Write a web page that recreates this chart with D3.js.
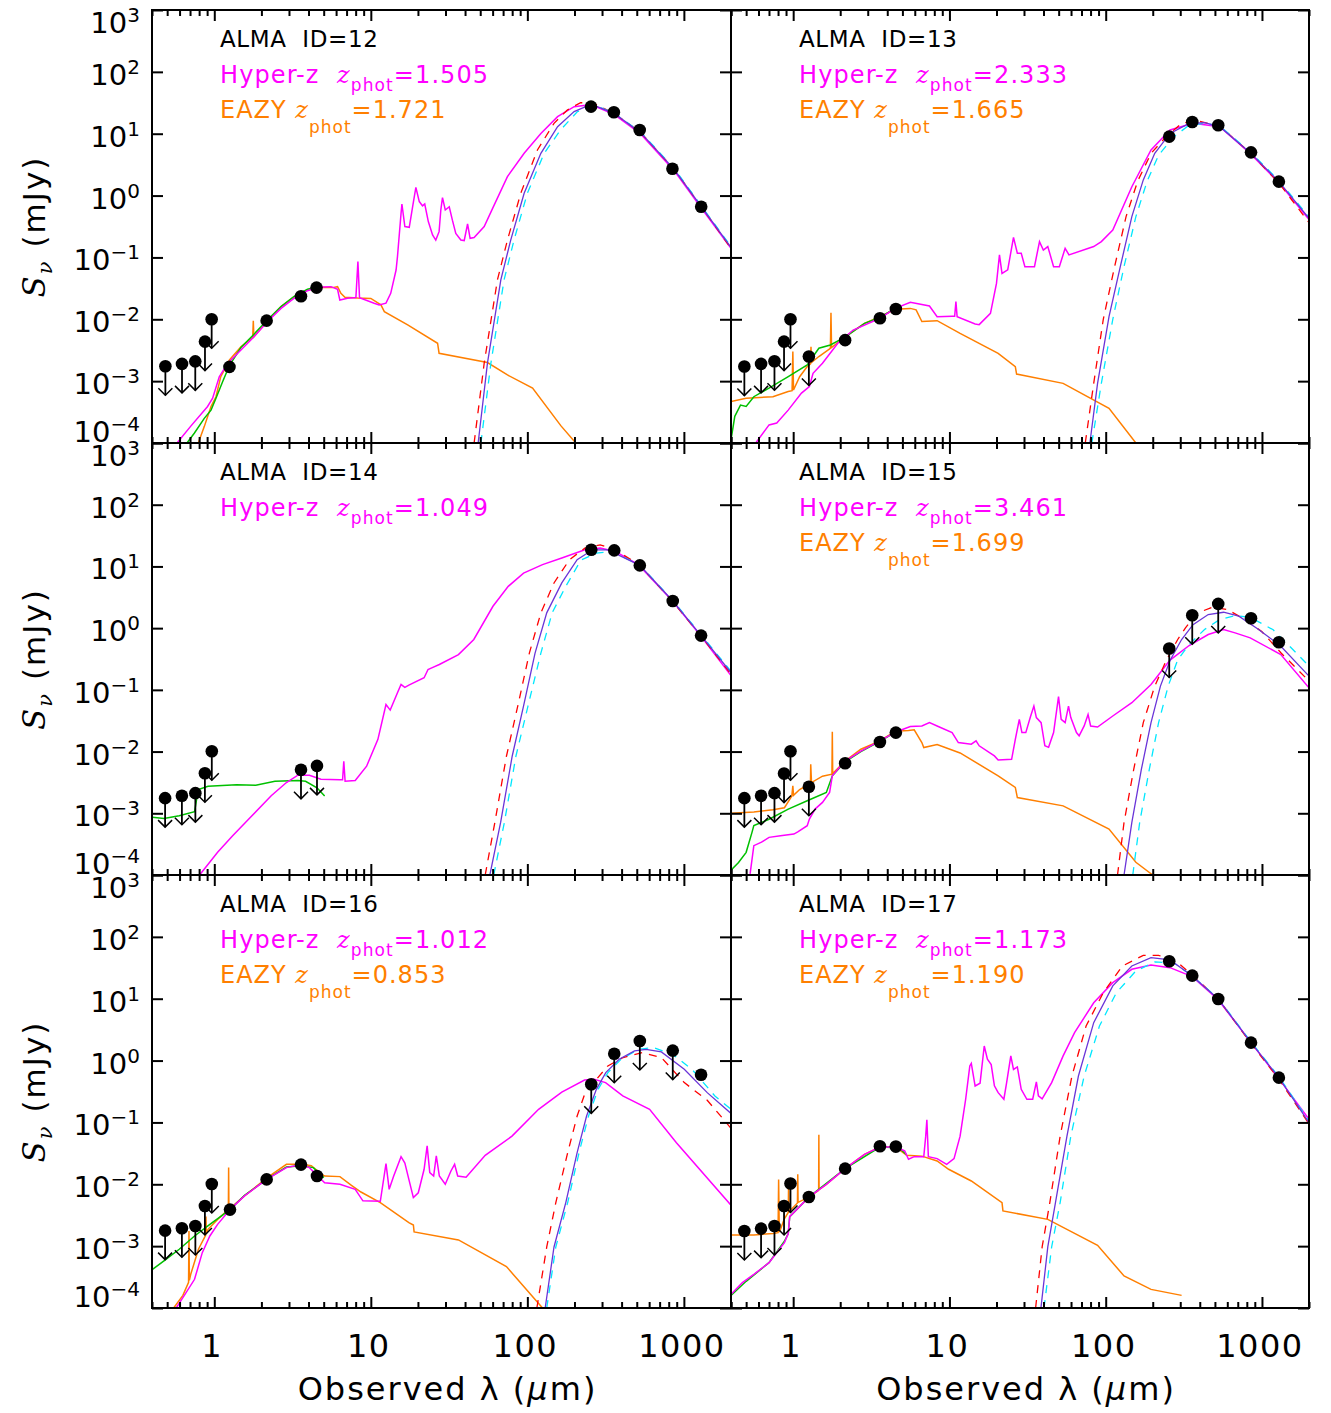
<!DOCTYPE html>
<html>
<head>
<meta charset="utf-8">
<script src="https://cdn.jsdelivr.net/npm/d3@7"></script>
<style>
  body { margin: 0; background: #fff; }
  svg { display: block; font-family: "DejaVu Sans", sans-serif; }
</style>
</head>
<body>
<svg id="chart" width="1331" height="1413"></svg>
<script>
// ---- data: wavelength (um), flux (mJy) ----
const ids = [12, 13, 14, 15, 16, 17];
const hyperzPhot = ["1.505", "2.333", "1.049", "3.461", "1.012", "1.173"];
const eazyPhot = ["1.721", "1.665", null, "1.699", "0.853", "1.190"];
const xTickLabels = [1, 10, 100, 1000];
const yTickVals = [1e-4, 1e-3, 1e-2, 1e-1, 1, 10, 100, 1000];

// photometry: [lambda, flux, upperLimit]
const pts12 = [[0.487,1.74e-3,1],[0.622,1.9e-3,1],[0.756,2.09e-3,1],[0.872,4.36e-3,1],[0.962,1.0e-2,1],
  [1.25,1.7e-3,0],[2.16,9.5e-3,0],[3.58,2.36e-2,0],[4.5,3.25e-2,0],
  [255,27.4,0],[357,22.2,0],[522,11.5,0],[845,2.72,0],[1290,0.66,0]];
const pts13 = [[0.487,1.72e-3,1],[0.623,1.9e-3,1],[0.759,2.1e-3,1],[0.874,4.36e-3,1],[0.961,1.0e-2,1],
  [1.26,2.5e-3,1],[2.15,4.6e-3,0],[3.59,1.04e-2,0],[4.54,1.47e-2,0],
  [255,8.97,0],[358,15.5,0],[525,13.7,0],[851,5.0,0],[1283,1.68,0]];
const pts14 = [[0.485,1.76e-3,1],[0.621,1.92e-3,1],[0.757,2.12e-3,1],[0.871,4.46e-3,1],[0.964,1.01e-2,1],
  [3.58,5.06e-3,1],[4.53,5.86e-3,1],
  [256,18.6,0],[359,18.2,0],[523,10.4,0],[849,2.75,0],[1288,0.757,0]];
const pts15 = [[0.487,1.76e-3,1],[0.623,1.92e-3,1],[0.759,2.12e-3,1],[0.874,4.4e-3,1],[0.961,1.01e-2,1],
  [1.26,2.69e-3,1],[2.15,6.47e-3,0],[3.59,1.43e-2,0],[4.54,2.03e-2,0],
  [255,0.468,1],[358,1.62,1],[525,2.47,1],[851,1.45,0],[1283,0.59,0]];
const pts16 = [[0.485,1.78e-3,1],[0.621,1.95e-3,1],[0.757,2.12e-3,1],[0.871,4.46e-3,1],[0.964,1.01e-2,1],
  [1.26,3.9e-3,0],[2.16,1.2e-2,0],[3.58,2.08e-2,0],[4.53,1.36e-2,0],
  [256,0.413,1],[359,1.29,1],[523,2.07,1],[849,1.45,1],[1288,0.59,0]];
const pts17 = [[0.487,1.76e-3,1],[0.623,1.92e-3,1],[0.759,2.12e-3,1],[0.874,4.46e-3,1],[0.961,1.03e-2,1],
  [1.26,6.24e-3,0],[2.15,1.79e-2,0],[3.59,4.11e-2,0],[4.54,4.07e-2,0],
  [255,40.3,0],[358,23.6,0],[525,9.9,0],[851,1.95,0],[1283,0.53,0]];

// Hyper-z best-fit templates (magenta)
const hyp12 = [[0.578,1e-4],[0.71,1.89e-4],[0.906,3.9e-4],[0.976,5.3e-4],[1.076,1.18e-3],[1.22,1.95e-3],[1.48,3.19e-3],
  [1.80,5.25e-3],[2.19,9.2e-3],[2.67,1.5e-2],[3.24,2.19e-2],[3.94,2.9e-2],[4.57,3.29e-2],[5.56,3.37e-2],[6.13,3.05e-2],
  [6.34,2.05e-2],[7.10,2.19e-2],[8.03,2.24e-2],[8.27,8.55e-2],[8.47,2.24e-2],[10.5,1.82e-2],[11.3,1.71e-2],[12.5,1.82e-2],
  [13.4,2.63e-2],[14.5,6.26e-2],[14.8,0.103],[15.6,0.516],[15.8,0.73],[16.5,0.315],[17.6,0.307],[18.5,0.662],[19.4,1.36],
  [20.4,0.80],[21.4,0.68],[22.1,0.73],[23.3,0.38],[24.8,0.231],[26.0,0.191],[27.3,0.261],[28.0,0.585],[28.7,0.927],
  [29.9,0.585],[31.7,0.66],[33.2,0.40],[34.9,0.245],[37.6,0.191],[39.5,0.187],[41.5,0.347],[43.1,0.204],[45.7,0.21],
  [53,0.315],[60,0.62],[74.6,2.02],[95.4,4.82],[122,10.1],[156,18.9],[199,27.4],[236,28.8],[280,26.7],[358,20.6],
  [530,9.9],[867,2.53],[1282,0.645],[2000,0.14]];
const hyp13 = [[0.576,1e-4],[0.701,1.96e-4],[0.785,2.1e-4],[0.929,3.4e-4],[1.13,6.4e-4],[1.27,8.2e-4],[1.34,1.34e-3],
  [1.54,1.95e-3],[1.93,4.1e-3],[2.42,6.7e-3],[3.59,1.04e-2],[4.5,1.5e-2],[5.62,1.88e-2],[7.45,1.64e-2],[8.34,1.1e-2],
  [10.4,1.12e-2],[10.8,1.12e-2],[11.0,1.93e-2],[11.2,1.1e-2],[14.6,8.4e-3],[15.5,8.2e-3],[18.3,1.25e-2],[20,3.8e-2],
  [20.9,0.11],[21.7,5.5e-2],[23.6,6.3e-2],[25.7,0.211],[27.2,0.117],[28.8,0.117],[30.4,7.1e-2],[35,7.1e-2],[37.7,0.18],
  [39.9,0.132],[42.6,0.15],[46.4,7.1e-2],[50.5,7.1e-2],[55,0.14],[58.2,0.11],[83.8,0.15],[93.8,0.18],[111,0.278],
  [147,1.39],[195,5.46],[258,11.5],[362,14.7],[537,13],[841,4.8],[1283,1.62],[2000,0.41]];
const hyp14 = [[0.815,1.04e-4],[1.05,2.33e-4],[1.31,4.34e-4],[1.74,9.1e-4],[2.31,1.92e-3],[2.89,3.15e-3],[3.42,4.14e-3],
  [4.05,4.14e-3],[4.8,3.56e-3],[6.35,3.5e-3],[6.6,3.5e-3],[6.72,6.98e-3],[6.85,3.3e-3],[7.95,3.4e-3],[9.4,5.8e-3],
  [11.1,1.58e-2],[12.5,5.8e-2],[13.3,4.7e-2],[14.8,9.0e-2],[15.6,0.122],[16.5,0.11],[17.5,0.119],[21.9,0.157],
  [23.2,0.214],[24.5,0.227],[27.4,0.258],[36.3,0.373],[45.5,0.655],[60.3,2.26],[75.5,4.76],[94.6,7.8],[125,10.7],
  [166,13.7],[233,18.6],[292,19.8],[365,17.5],[512,10.7],[849,2.72],[1288,0.74],[2000,0.17]];
const hyp15 = [[0.53,1.04e-4],[0.56,2.99e-4],[0.627,3.4e-4],[0.701,4.07e-4],[0.83,4.34e-4],[1.01,4.6e-4],[1.07,5.0e-4],
  [1.23,6.3e-4],[1.27,8.05e-4],[1.38,1.17e-3],[1.54,1.5e-3],[1.71,2.17e-3],[1.78,4.05e-3],[1.93,5.19e-3],[2.16,7.07e-3],
  [2.71,1.02e-2],[3.59,1.49e-2],[4.54,2.08e-2],[5.62,2.54e-2],[6.66,2.6e-2],[7.45,2.94e-2],[8.34,2.6e-2],[10.4,2.03e-2],
  [11.4,1.4e-2],[13.8,1.32e-2],[14.8,1.49e-2],[15.5,1.24e-2],[19.4,8.5e-3],[20.5,7.3e-3],[25,7.5e-3],[26.4,1.58e-2],
  [28,3.33e-2],[29.1,2.03e-2],[30.8,2.03e-2],[33.1,3.78e-2],[34.7,5.47e-2],[36,3.55e-2],[38.6,2.94e-2],[40.8,1.24e-2],
  [43.1,1.17e-2],[46.4,2.03e-2],[49.9,7.75e-2],[51.9,3.33e-2],[55,2.94e-2],[57.8,5.47e-2],[59.8,3.55e-2],[65,2.03e-2],
  [67.6,1.8e-2],[72.8,2.6e-2],[77.1,4.0e-2],[80.1,2.6e-2],[88.7,2.5e-2],[111,3.77e-2],[147,6.2e-2],[195,0.122],
  [258,0.303],[342,0.523],[453,0.789],[568,0.949],[673,0.838],[841,0.697],[1321,0.373],[2000,0.108]];
const hyp16 = [[0.571,1e-4],[0.63,1.47e-4],[0.748,2.91e-4],[0.838,7.85e-4],[0.937,1.46e-3],[1.05,2.25e-3],[1.26,3.9e-3],
  [1.56,6.5e-3],[2.16,1.2e-2],[2.89,1.86e-2],[3.58,2.08e-2],[4.05,1.86e-2],[5.07,1.06e-2],[6.35,1.0e-2],[7.95,8.3e-3],
  [8.9,5.4e-3],[11.5,5.3e-3],[12.5,2.16e-2],[13.1,8.3e-3],[14,1.36e-2],[15.6,2.8e-2],[16.5,2.2e-2],[17.5,1.2e-2],
  [18.7,6.1e-3],[20.1,7.3e-3],[21.9,1.75e-2],[22.9,4.17e-2],[23.8,1.54e-2],[25.2,1.36e-2],[26.2,2.87e-2],[27.4,1.36e-2],
  [29.9,1.0e-2],[32.5,1.64e-2],[34.3,2.1e-2],[35.9,1.36e-2],[40.6,1.3e-2],[53.8,2.94e-2],[79.8,6.0e-2],[118,0.163],
  [166,0.31],[232,0.485],[267,0.5],[316,0.44],[407,0.268],[604,0.163],[896,4.7e-2],[2000,4.6e-3]];
const hyp17 = [[0.4,1.67e-4],[0.473,2.57e-4],[0.56,3.5e-4],[0.701,5.4e-4],[0.879,1.14e-3],[0.93,1.6e-3],[0.95,3.0e-3],
  [1.26,6.2e-3],[1.63,1.0e-2],[2.15,1.79e-2],[2.86,3.05e-2],[3.59,4.0e-2],[4.54,4.0e-2],[5.17,3.46e-2],[5.47,2.54e-2],
  [5.95,2.8e-2],[6.85,2.8e-2],[7.05,6.0e-2],[7.17,0.11],[7.33,2.8e-2],[8.34,2.6e-2],[9.6,2.1e-2],[10.7,2.6e-2],
  [11.7,6.0e-2],[12.7,0.237],[13.5,0.82],[13.8,0.9],[14.6,0.388],[15.7,0.43],[16.7,1.72],[17.5,1.05],[18.5,0.86],
  [19.4,0.39],[20.5,0.303],[22.3,0.237],[23.2,0.43],[24.7,1.19],[25.7,0.72],[27.2,0.79],[28.8,0.343],[31.3,0.237],
  [34.1,0.237],[36,0.451],[37.1,0.27],[39.2,0.24],[45.1,0.44],[53.4,1.19],[63.2,2.83],[83.8,8.6],[111,18.2],
  [147,29.9],[195,35.1],[258,31.8],[358,22.8],[525,9.6],[851,1.95],[1283,0.51],[2000,0.112]];

// EAZY templates (orange)
const eazy12 = [[0.79,1e-4],[0.863,1.84e-4],[0.953,3.9e-4],[1.025,5.6e-4],[1.10,1.18e-3],[1.25,2.2e-3],[1.48,3.6e-3],
  [1.76,5.1e-3],[1.775,9.5e-3],[1.79,5.2e-3],[2.19,9.5e-3],[2.67,1.6e-2],[3.24,2.32e-2],[3.94,2.98e-2],[4.80,3.29e-2],
  [5.70,3.25e-2],[6.13,3.37e-2],[6.44,2.63e-2],[6.83,2.27e-2],[8.23,2.2e-2],[10.0,2.17e-2],[11.6,1.71e-2],[12.2,1.33e-2],
  [17.2,8.1e-3],[26.7,4.1e-3],[27.3,2.82e-3],[55.6,2.0e-3],[74.6,1.26e-3],[108,7.7e-4],[164,1.89e-4],[204,1.0e-4]];
const eazy13 = [[0.4,4.67e-4],[0.5,5.3e-4],[0.742,5.6e-4],[0.929,6.8e-4],[0.984,7.0e-4],[0.995,3.0e-3],[1.005,7.2e-4],
  [1.1,1.18e-3],[1.23,1.72e-3],[1.29,1.9e-3],[1.30,3.6e-3],[1.31,2.0e-3],[1.46,2.5e-3],[1.73,3.4e-3],[1.745,1.28e-2],
  [1.76,3.5e-3],[2.16,5.25e-3],[2.86,8.6e-3],[3.59,1.1e-2],[4.49,1.45e-2],[5.62,1.5e-2],[6.12,1.42e-2],[6.66,9.2e-3],
  [8.34,9.5e-3],[11.7,5.9e-3],[20.5,2.82e-3],[26.4,1.72e-3],[26.9,1.3e-3],[53.4,9.2e-4],[105,3.65e-4],[156,1e-4]];
const eazy14 = [];
const eazy15 = [[0.4,1.0e-3],[0.56,1.05e-3],[0.742,1.14e-3],[0.879,1.23e-3],[0.98,1.9e-3],[0.995,2.79e-3],[1.005,1.95e-3],
  [1.1,2.43e-3],[1.29,3.05e-3],[1.295,6.2e-3],[1.31,3.15e-3],[1.54,3.99e-3],[1.77,4.3e-3],[1.78,2.1e-2],[1.79,4.4e-3],
  [2.16,7.1e-3],[2.71,1.09e-2],[3.59,1.49e-2],[4.5,2.13e-2],[5.47,2.2e-2],[5.95,2.25e-2],[6.66,1.4e-2],[6.85,1.16e-2],
  [8.34,1.3e-2],[11.7,9.5e-3],[20.5,4.05e-3],[26.4,2.62e-3],[27.2,1.8e-3],[53.4,1.32e-3],[105,5.56e-4],[156,1.61e-4],[200,1e-4]];
const eazy16 = [[0.55,1e-4],[0.63,1.6e-4],[0.685,2.6e-4],[0.689,1.76e-3],[0.693,2.8e-4],[0.707,3.5e-4],[0.792,8.9e-4],
  [0.88,1.5e-3],[0.885,3.0e-3],[0.89,1.6e-3],[0.912,1.87e-3],[1.05,2.71e-3],[1.23,3.9e-3],[1.235,1.86e-2],[1.24,3.95e-3],
  [1.56,6.5e-3],[2.18,1.28e-2],[2.89,2.1e-2],[3.62,2.1e-2],[4.17,2.0e-2],[4.8,1.48e-2],[5.07,1.36e-2],[6.35,1.33e-2],
  [7.52,9.6e-3],[8.65,7.5e-3],[11.5,5.06e-3],[17.5,2.4e-3],[18.7,2.2e-3],[18.9,1.7e-3],[36.3,1.26e-3],[73.5,4.67e-4],[125,1e-4]];
const eazy17 = [[0.4,1.52e-3],[0.56,1.52e-3],[0.742,1.6e-3],[0.80,1.65e-3],[0.807,1.2e-2],[0.815,1.7e-3],[0.83,1.87e-3],
  [0.874,2.7e-3],[0.93,3.5e-3],[0.935,1.1e-2],[0.94,3.6e-3],[1.065,5e-3],[1.07,1.45e-2],[1.075,5.1e-3],[1.26,6.2e-3],
  [1.455,8e-3],[1.46,6.3e-2],[1.465,8.2e-3],[1.63,1.0e-2],[2.15,1.8e-2],[2.86,3.05e-2],[3.59,4.0e-2],[4.54,4.0e-2],
  [5.32,2.94e-2],[6.66,2.85e-2],[8.34,2.38e-2],[9.88,1.75e-2],[13.8,1.13e-2],[21.7,5.06e-3],[22,3.71e-3],[42.6,2.71e-3],
  [88.7,1.03e-3],[131,3.3e-4],[195,2.0e-4],[306,1.6e-4]];

// third optical/NIR fit (green)
const alt12 = [[0.669,1e-4],[0.745,1.44e-4],[0.863,2.5e-4],[0.953,3.4e-4],[1.025,5.3e-4],[1.13,9.8e-4],[1.25,1.8e-3],
  [1.48,3.5e-3],[1.80,5.8e-3],[2.19,9.8e-3],[2.67,1.6e-2],[3.24,2.35e-2],[3.94,3.06e-2],[4.46,3.3e-2]];
const alt13 = [[0.4,1.12e-4],[0.423,2.7e-4],[0.46,4.1e-4],[0.5,3.9e-4],[0.56,5.6e-4],[0.70,7.7e-4],[0.93,1.18e-3],
  [1.23,1.83e-3],[1.46,3.4e-3],[1.73,3.85e-3],[2.16,5.2e-3],[2.86,8.6e-3],[3.59,1.07e-2],[4.49,1.5e-2]];
const alt14 = [[0.403,8.6e-4],[0.477,8.2e-4],[0.597,9.1e-4],[0.748,1.06e-3],[0.79,2.43e-3],[0.912,2.75e-3],[1.39,2.9e-3],
  [1.84,2.85e-3],[2.44,3.3e-3],[3.42,3.4e-3],[3.83,3.3e-3],[4.53,2.59e-3],[5.07,1.9e-3]];
const alt15 = [[0.4,1.2e-4],[0.447,1.6e-4],[0.5,2.33e-4],[0.545,4.9e-4],[0.56,6.3e-4],[0.701,8.0e-4],[0.93,1.17e-3],
  [1.23,1.6e-3],[1.63,2.17e-3],[1.78,4.05e-3],[2.16,6.9e-3],[2.71,1.0e-2],[3.59,1.47e-2],[4.54,2.08e-2]];
const alt16 = [[0.403,4.2e-4],[0.477,5.8e-4],[0.597,8.9e-4],[0.748,1.46e-3],[0.937,2.25e-3],[1.26,3.9e-3],[1.56,6.6e-3],
  [2.18,1.22e-2],[2.89,1.9e-2],[3.58,2.0e-2],[4.29,1.86e-2],[5.01,1.28e-2]];
const alt17 = [[0.4,1.6e-4],[0.5,2.7e-4],[0.70,5.4e-4],[0.879,1.2e-3],[0.93,1.6e-3],[0.95,3.0e-3],[1.26,6.2e-3],
  [2.15,1.8e-2],[3.59,4.0e-2],[4.75,3.9e-2],[5.32,3.0e-2]];

// far-IR dust fits: solid (blue), dashed low (red), dashed high (cyan)
const sed12 = [[48.5,1e-4],[55.6,1.95e-3],[67.7,4.33e-2],[78.3,0.191],[95.4,1.09],[122,4.82],[156,13.0],[199,22.8],
  [242,28.1],[280,27.4],[358,21.4],[530,10.4],[867,2.66],[1282,0.68],[2000,0.145]];
const sedLo12 = [[45.7,1e-4],[53,1.95e-3],[64.4,4.33e-2],[74.6,0.191],[90.8,1.09],[116,5.46],[148,14.7],[180,24.2],
  [219,31.8],[267,30.8],[358,21.4],[530,10.4],[867,2.66],[1282,0.68],[2000,0.14]];
const sedHi12 = [[50.5,1e-4],[58.5,1.95e-3],[71,4.33e-2],[82.2,0.191],[100,1.09],[128,4.82],[163,11.5],[209,22.8],
  [254,26.7],[300,26],[358,21.4],[530,10.6],[867,2.75],[1282,0.7],[2000,0.15]];
const sed13 = [[79.2,1e-4],[88.7,9.2e-4],[105,1.1e-2],[124,7.1e-2],[147,0.457],[174,1.79],[206,4.82],[258,10.1],
  [342,14.7],[429,15.1],[537,13.0],[841,4.94],[1283,1.68],[2000,0.43]];
const sedLo13 = [[74,1e-4],[83.8,9.2e-4],[96.5,1.0e-2],[114,7.1e-2],[135,0.457],[160,1.7],[195,4.82],[244,8.97],
  [306,14.7],[383,16.3],[537,13.2],[841,4.9],[1283,1.6],[2000,0.366]];
const sedHi13 = [[81.5,1e-4],[93.8,9.2e-4],[111,1.0e-2],[131,7.1e-2],[156,0.457],[184,1.7],[218,4.5],[273,8.97],
  [342,13.7],[429,14.7],[537,13.3],[841,5.1],[1283,1.75],[2000,0.45]];
const sed14 = [[57.6,1e-4],[67.5,7.1e-4],[80,8.4e-3],[94.6,5.5e-2],[112,0.394],[133,1.77],[166,5.4],[208,12.9],
  [261,18.6],[327,18.6],[523,10.4],[849,2.75],[1288,0.757],[2000,0.19]];
const sedLo14 = [[53.8,1e-4],[62,7.1e-4],[73.5,8.4e-3],[86.9,5.5e-2],[103,0.394],[122,1.77],[148,5.4],[186,12.9],
  [233,19.8],[292,22.4],[365,18.6],[523,10.4],[849,2.7],[1288,0.74],[2000,0.18]];
const sedHi14 = [[61,1e-4],[71.3,7.1e-4],[84.5,8.4e-3],[101,5.5e-2],[122,0.394],[144,1.77],[176,4.76],[220,12.7],
  [276,16.4],[345,17.5],[523,10.6],[849,2.8],[1288,0.78],[2000,0.2]];
const sed15 = [[131,1e-4],[147,7.1e-4],[169,5.1e-3],[195,2.94e-2],[224,0.115],[258,0.3],[306,0.655],[362,1.14],
  [453,1.66],[568,1.81],[711,1.56],[942,0.97],[1321,0.51],[2000,0.167]];
const sedLo15 = [[119,1e-4],[131,7.1e-4],[151,5.1e-3],[174,2.94e-2],[206,0.115],[244,0.3],[289,0.655],[324,1.01],
  [383,1.74],[480,2.18],[601,2.0],[752,1.45],[997,0.88],[1321,0.4],[2000,0.139]];
const sedHi15 = [[149,1e-4],[165,7.1e-4],[190,5.1e-3],[218,2.94e-2],[251,0.115],[289,0.307],[342,0.543],[429,0.95],
  [537,1.38],[673,1.6],[841,1.5],[1180,0.94],[1652,0.4],[2000,0.243]];
const sed16 = [[130,1e-4],[148,9.7e-4],[176,5.06e-3],[208,3.25e-2],[239,0.127],[276,0.343],[317,0.638],[386,1.05],
  [484,1.43],[573,1.52],[718,1.38],[1006,0.723],[1410,0.303],[2000,0.14]];
const sedLo16 = [[115,1e-4],[133,9.7e-4],[152,5.06e-3],[181,3.25e-2],[208,0.127],[233,0.292],[276,0.497],[327,0.82],
  [409,1.12],[542,1.34],[718,1.12],[1006,0.44],[1410,0.228],[1866,0.0993],[2000,0.08]];
const sedHi16 = [[133,1e-4],[152,9.7e-4],[181,5.06e-3],[214,3.25e-2],[246,0.127],[283,0.343],[327,0.638],[397,1.05],
  [512,1.52],[641,1.62],[849,1.26],[1125,0.723],[1578,0.268],[2000,0.163]];
const sed17 = [[38.5,1e-4],[42.6,9.7e-4],[47.7,5.06e-3],[56.5,6.0e-2],[66.9,0.563],[83.8,4.1],[111,16.1],[147,33.8],
  [195,46.1],[258,42.3],[358,23.3],[525,9.9],[851,1.95],[1283,0.53],[2000,0.0993]];
const sedLo17 = [[35.6,1e-4],[39.2,9.7e-4],[43.9,5.06e-3],[51.1,6.0e-2],[60.8,0.563],[74.9,3.62],[96.5,12.5],[128,33.8],
  [174,50.2],[218,50.2],[281,40.8],[358,24],[525,9.9],[851,1.9],[1283,0.5],[2000,0.095]];
const sedHi17 = [[40.3,1e-4],[45.1,9.7e-4],[51.1,5.06e-3],[59.8,6.0e-2],[72.8,0.563],[91.2,3.62],[117,12.5],[156,28.1],
  [206,39.3],[274,37.7],[358,23.3],[525,10.1],[851,2.0],[1283,0.55],[2000,0.105]];

const panels = [
  {pts: pts12, hyp: hyp12, eazy: eazy12, alt: alt12, sed: sed12, lo: sedLo12, hi: sedHi12},
  {pts: pts13, hyp: hyp13, eazy: eazy13, alt: alt13, sed: sed13, lo: sedLo13, hi: sedHi13},
  {pts: pts14, hyp: hyp14, eazy: eazy14, alt: alt14, sed: sed14, lo: sedLo14, hi: sedHi14},
  {pts: pts15, hyp: hyp15, eazy: eazy15, alt: alt15, sed: sed15, lo: sedLo15, hi: sedHi15},
  {pts: pts16, hyp: hyp16, eazy: eazy16, alt: alt16, sed: sed16, lo: sedLo16, hi: sedHi16},
  {pts: pts17, hyp: hyp17, eazy: eazy17, alt: alt17, sed: sed17, lo: sedLo17, hi: sedHi17}
];

// ---- layout ----
const colX = [[152, 731], [731, 1309]];
const rowY = [[10, 443], [443, 875], [875, 1308]];
const svg = d3.select("#chart");

const colors = {
  hyp: "#ff00ff", eazy: "#ff7f00", alt: "#00c000",
  sed: "#6a34d8", lo: "#ff0000", hi: "#00e8ff"
};

panels.forEach(function(p, i) {
  const col = i % 2, row = Math.floor(i / 2);
  const [x0, x1] = colX[col];
  const [y0, y1] = rowY[row];

  const x = d3.scaleLog().domain([0.4, 2000]).range([x0, x1]);
  const y = d3.scaleLog().domain([1e-4, 1e3]).range([y1, y0]);

  const g = svg.append("g");
  const clipId = "clip" + i;
  g.append("clipPath").attr("id", clipId)
    .append("rect").attr("x", x0).attr("y", y0).attr("width", x1 - x0).attr("height", y1 - y0);

  const plot = g.append("g").attr("clip-path", `url(#${clipId})`);
  const line = d3.line().x(d => x(d[0])).y(d => y(d[1]));

  plot.append("path").datum(p.eazy).attr("d", line)
    .attr("fill", "none").attr("stroke", colors.eazy).attr("stroke-width", 1.5);
  plot.append("path").datum(p.alt).attr("d", line)
    .attr("fill", "none").attr("stroke", colors.alt).attr("stroke-width", 1.5);
  plot.append("path").datum(p.hyp).attr("d", line)
    .attr("fill", "none").attr("stroke", colors.hyp).attr("stroke-width", 1.5);
  plot.append("path").datum(p.lo).attr("d", line)
    .attr("fill", "none").attr("stroke", colors.lo).attr("stroke-width", 1.3).attr("stroke-dasharray", "8,7");
  plot.append("path").datum(p.hi).attr("d", line)
    .attr("fill", "none").attr("stroke", colors.hi).attr("stroke-width", 1.3).attr("stroke-dasharray", "8,7");
  plot.append("path").datum(p.sed).attr("d", line)
    .attr("fill", "none").attr("stroke", colors.sed).attr("stroke-width", 1.3);

  // upper limit arrows
  const ul = plot.selectAll(".ul").data(p.pts.filter(d => d[2])).enter().append("g");
  ul.append("line")
    .attr("x1", d => x(d[0])).attr("x2", d => x(d[0]))
    .attr("y1", d => y(d[1])).attr("y2", d => y(d[1]) + 29)
    .attr("stroke", "#000").attr("stroke-width", 1.8);
  ul.append("polyline")
    .attr("points", d => {
      const cx = x(d[0]), ty = y(d[1]) + 29;
      return `${cx - 7},${ty - 7} ${cx},${ty} ${cx + 7},${ty - 7}`;
    })
    .attr("fill", "none").attr("stroke", "#000").attr("stroke-width", 1.5);

  plot.selectAll("circle").data(p.pts).enter().append("circle")
    .attr("cx", d => x(d[0])).attr("cy", d => y(d[1])).attr("r", 6.3).attr("fill", "#000");

  // ticks
  const all = x.ticks();
  const major = all.filter(v => Math.abs(Math.log10(v) - Math.round(Math.log10(v))) < 1e-6);
  const minor = all.filter(v => major.indexOf(v) < 0);

  function tickAxis(axis, tx, ty) {
    const a = g.append("g").attr("transform", `translate(${tx},${ty})`).call(axis);
    a.select(".domain").remove();
    a.selectAll("text").remove();
    a.selectAll("line").attr("stroke", "#000").attr("stroke-width", 2);
  }
  tickAxis(d3.axisBottom(x).tickValues(major).tickSize(-11).tickFormat(""), 0, y1);
  tickAxis(d3.axisBottom(x).tickValues(minor).tickSize(-6).tickFormat(""), 0, y1);
  tickAxis(d3.axisTop(x).tickValues(major).tickSize(-11).tickFormat(""), 0, y0);
  tickAxis(d3.axisTop(x).tickValues(minor).tickSize(-6).tickFormat(""), 0, y0);
  tickAxis(d3.axisLeft(y).tickValues(yTickVals).tickSize(-11).tickFormat(""), x0, 0);
  tickAxis(d3.axisRight(y).tickValues(yTickVals).tickSize(-11).tickFormat(""), x1, 0);

  g.append("rect").attr("x", x0).attr("y", y0).attr("width", x1 - x0).attr("height", y1 - y0)
    .attr("fill", "none").attr("stroke", "#000").attr("stroke-width", 2);

  // y tick labels (left column only)
  if (col === 0) {
    yTickVals.forEach(function(v) {
      const e = Math.round(Math.log10(v));
      let off = 13;
      if (e === 3) off = 23;
      if (e === -4) off = -1;
      const t = svg.append("text").attr("x", 140).attr("y", y(v) + off)
        .attr("text-anchor", "end").attr("font-size", 29).attr("fill", "#000");
      t.append("tspan").text("10");
      t.append("tspan").attr("font-size", 20).attr("dy", -11).text(e < 0 ? "\u2212" + (-e) : String(e));
    });
    const yc = (y0 + y1) / 2;
    const lab = svg.append("text").attr("transform", `translate(45,${yc}) rotate(-90)`)
      .attr("text-anchor", "middle").attr("font-size", 31).attr("letter-spacing", 2).attr("fill", "#000");
    lab.append("tspan").attr("font-style", "italic").attr("font-family", "DejaVu Serif").text("S");
    lab.append("tspan").attr("font-size", 21).attr("dy", 7).attr("font-style", "italic")
      .attr("font-family", "DejaVu Serif").text("\u03bd");
    lab.append("tspan").attr("dy", -7).text("\u00a0(mJy)");
  }

  // x tick labels and title (bottom row only)
  if (row === 2) {
    xTickLabels.forEach(function(v) {
      svg.append("text").attr("x", x(v) - 2).attr("y", 1357).attr("text-anchor", "middle")
        .attr("font-size", 32).attr("letter-spacing", 1.5).attr("fill", "#000").text(v);
    });
    const tt = svg.append("text").attr("x", (x0 + x1) / 2 + 6).attr("y", 1400).attr("text-anchor", "middle")
      .attr("font-size", 32).attr("letter-spacing", 2).attr("fill", "#000");
    tt.append("tspan").text("Observed \u03bb (");
    tt.append("tspan").attr("font-style", "italic").text("\u03bc");
    tt.append("tspan").text("m)");
  }

  // annotations
  const tx = x0 + 68;
  svg.append("text").attr("x", tx).attr("y", y0 + 37).attr("font-size", 23).attr("letter-spacing", 0.6)
    .attr("fill", "#000").text("ALMA\u00a0\u00a0ID=" + ids[i]);

  const h = svg.append("text").attr("x", tx).attr("y", y0 + 73).attr("font-size", 24)
    .attr("letter-spacing", 1.1).attr("fill", colors.hyp);
  h.append("tspan").text("Hyper-z\u00a0\u00a0");
  h.append("tspan").attr("font-family", "DejaVu Serif").attr("font-style", "italic").text("z");
  h.append("tspan").attr("font-size", 17).attr("dy", 8).text("phot");
  h.append("tspan").attr("dy", -8).text("=" + hyperzPhot[i]);

  if (eazyPhot[i]) {
    const ez = svg.append("text").attr("x", tx).attr("y", y0 + 108).attr("font-size", 24)
      .attr("letter-spacing", 1).attr("fill", colors.eazy);
    ez.append("tspan").text("EAZY\u00a0");
    ez.append("tspan").attr("font-family", "DejaVu Serif").attr("font-style", "italic").text("z");
    ez.append("tspan").attr("font-size", 17).attr("dy", 15).text("phot");
    ez.append("tspan").attr("dy", -15).text("=" + eazyPhot[i]);
  }
});
</script>
</body>
</html>
